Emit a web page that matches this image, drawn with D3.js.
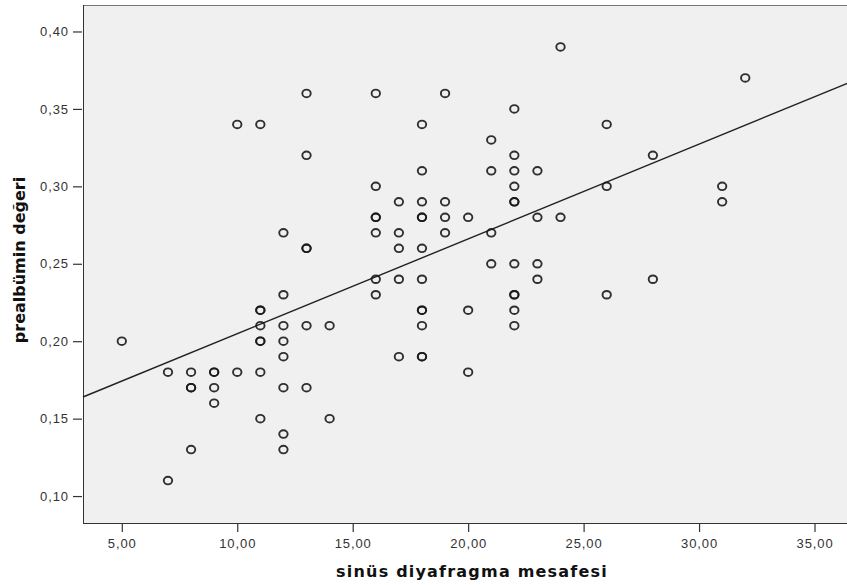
<!DOCTYPE html>
<html>
<head>
<meta charset="utf-8">
<script src="https://cdn.jsdelivr.net/npm/d3@7"></script>
<style>
  html, body { margin: 0; padding: 0; background: #ffffff; }
  svg { display: block; }
  .tick text { font-family: "Liberation Sans", Arial, sans-serif; font-size: 13px; fill: #333; letter-spacing: 0.9px; }
  .axis-title { font-family: "DejaVu Sans", Verdana, sans-serif; font-weight: bold; font-size: 16px; fill: #111; }
</style>
</head>
<body>
<svg id="chart" width="847" height="585"></svg>
<script>
// sinüs diyafragma mesafesi (x) and prealbümin değeri (y), one entry per case
const mesafe = [
  5,
  7, 7,
  8, 8, 8, 8,
  9, 9, 9, 9,
  10, 10,
  11, 11, 11, 11, 11, 11, 11, 11,
  12, 12, 12, 12, 12, 12, 12, 12,
  13, 13, 13, 13, 13, 13,
  14, 14,
  16, 16, 16, 16, 16, 16, 16,
  17, 17, 17, 17, 17,
  18, 18, 18, 18, 18, 18, 18, 18, 18, 18, 18, 18,
  19, 19, 19, 19,
  20, 20, 20,
  21, 21, 21, 21,
  22, 22, 22, 22, 22, 22, 22, 22, 22, 22, 22,
  23, 23, 23, 23,
  24, 24,
  26, 26, 26,
  28, 28,
  31, 31,
  32
];
const prealbumin = [
  0.20,
  0.18, 0.11,
  0.18, 0.17, 0.17, 0.13,
  0.18, 0.18, 0.17, 0.16,
  0.34, 0.18,
  0.34, 0.22, 0.22, 0.21, 0.20, 0.20, 0.18, 0.15,
  0.27, 0.23, 0.21, 0.20, 0.19, 0.17, 0.14, 0.13,
  0.36, 0.32, 0.26, 0.26, 0.21, 0.17,
  0.21, 0.15,
  0.36, 0.30, 0.28, 0.28, 0.27, 0.24, 0.23,
  0.29, 0.27, 0.26, 0.24, 0.19,
  0.34, 0.31, 0.29, 0.28, 0.28, 0.26, 0.24, 0.22, 0.22, 0.21, 0.19, 0.19,
  0.36, 0.29, 0.28, 0.27,
  0.28, 0.22, 0.18,
  0.33, 0.31, 0.27, 0.25,
  0.35, 0.32, 0.31, 0.30, 0.29, 0.29, 0.25, 0.23, 0.23, 0.22, 0.21,
  0.31, 0.28, 0.25, 0.24,
  0.39, 0.28,
  0.34, 0.30, 0.23,
  0.32, 0.24,
  0.30, 0.29,
  0.37
];
const xTicks = [5, 10, 15, 20, 25, 30, 35];
const yTicks = [0.10, 0.15, 0.20, 0.25, 0.30, 0.35, 0.40];
const xTitle = "sinüs diyafragma mesafesi";
const yTitle = "prealbümin değeri";

const svg = d3.select("#chart");
const plot = { left: 83, top: 5, right: 848, bottom: 523 };

const x = d3.scaleLinear().domain([3.32, 36.45]).range([plot.left, plot.right]);
const y = d3.scaleLinear().domain([0.0826, 0.4171]).range([plot.bottom, plot.top]);

const fmt = d => d3.format(".2f")(d).replace(".", ",");

// plot background
svg.append("rect")
  .attr("x", plot.left).attr("y", plot.top)
  .attr("width", plot.right - plot.left).attr("height", plot.bottom - plot.top)
  .attr("fill", "#f0f0f0").attr("stroke", "none");

// frame
svg.append("line").attr("x1", plot.left).attr("x2", plot.right).attr("y1", plot.top + 0.5).attr("y2", plot.top + 0.5)
  .attr("stroke", "#777").attr("stroke-width", 1);
svg.append("line").attr("x1", plot.left + 0.5).attr("x2", plot.left + 0.5).attr("y1", plot.top).attr("y2", plot.bottom)
  .attr("stroke", "#333").attr("stroke-width", 1);
svg.append("line").attr("x1", plot.left).attr("x2", plot.right).attr("y1", plot.bottom + 0.5).attr("y2", plot.bottom + 0.5)
  .attr("stroke", "#333").attr("stroke-width", 1);

// axes
const xAxis = svg.append("g")
  .attr("transform", `translate(0,${plot.bottom + 1})`)
  .call(d3.axisBottom(x).tickValues(xTicks).tickFormat(fmt).tickSize(8).tickPadding(7));
const yAxis = svg.append("g")
  .attr("transform", `translate(${plot.left - 1},0)`)
  .call(d3.axisLeft(y).tickValues(yTicks).tickFormat(fmt).tickSize(9).tickPadding(4));
[xAxis, yAxis].forEach(g => {
  g.select(".domain").remove();
  g.selectAll(".tick line").attr("stroke", "#333").attr("stroke-width", 1.2);
});

// least-squares fit line
const n = mesafe.length;
const mx = d3.mean(mesafe), my = d3.mean(prealbumin);
let sxy = 0, sxx = 0;
for (let i = 0; i < n; i++) {
  sxy += (mesafe[i] - mx) * (prealbumin[i] - my);
  sxx += (mesafe[i] - mx) ** 2;
}
const slope = sxy / sxx;
const intercept = my - slope * mx;
const xd = x.domain();
svg.append("line")
  .attr("x1", x(xd[0])).attr("y1", y(intercept + slope * xd[0]))
  .attr("x2", x(xd[1])).attr("y2", y(intercept + slope * xd[1]))
  .attr("stroke", "#222").attr("stroke-width", 1.4);

// points (slightly wide open rings)
svg.append("g").selectAll("ellipse")
  .data(d3.range(n))
  .join("ellipse")
  .attr("cx", i => x(mesafe[i]))
  .attr("cy", i => y(prealbumin[i]))
  .attr("rx", 4.2)
  .attr("ry", 3.8)
  .attr("fill", "none")
  .attr("stroke", "#1a1a1a")
  .attr("stroke-opacity", 0.9)
  .attr("stroke-width", 1.9);

// axis titles
svg.append("text").attr("class", "axis-title")
  .attr("x", 472).attr("y", 577)
  .attr("text-anchor", "middle")
  .style("letter-spacing", "1.2px")
  .text(xTitle);
svg.append("text").attr("class", "axis-title")
  .attr("transform", `translate(25,260) rotate(-90)`)
  .attr("text-anchor", "middle").text(yTitle);
</script>
</body>
</html>
